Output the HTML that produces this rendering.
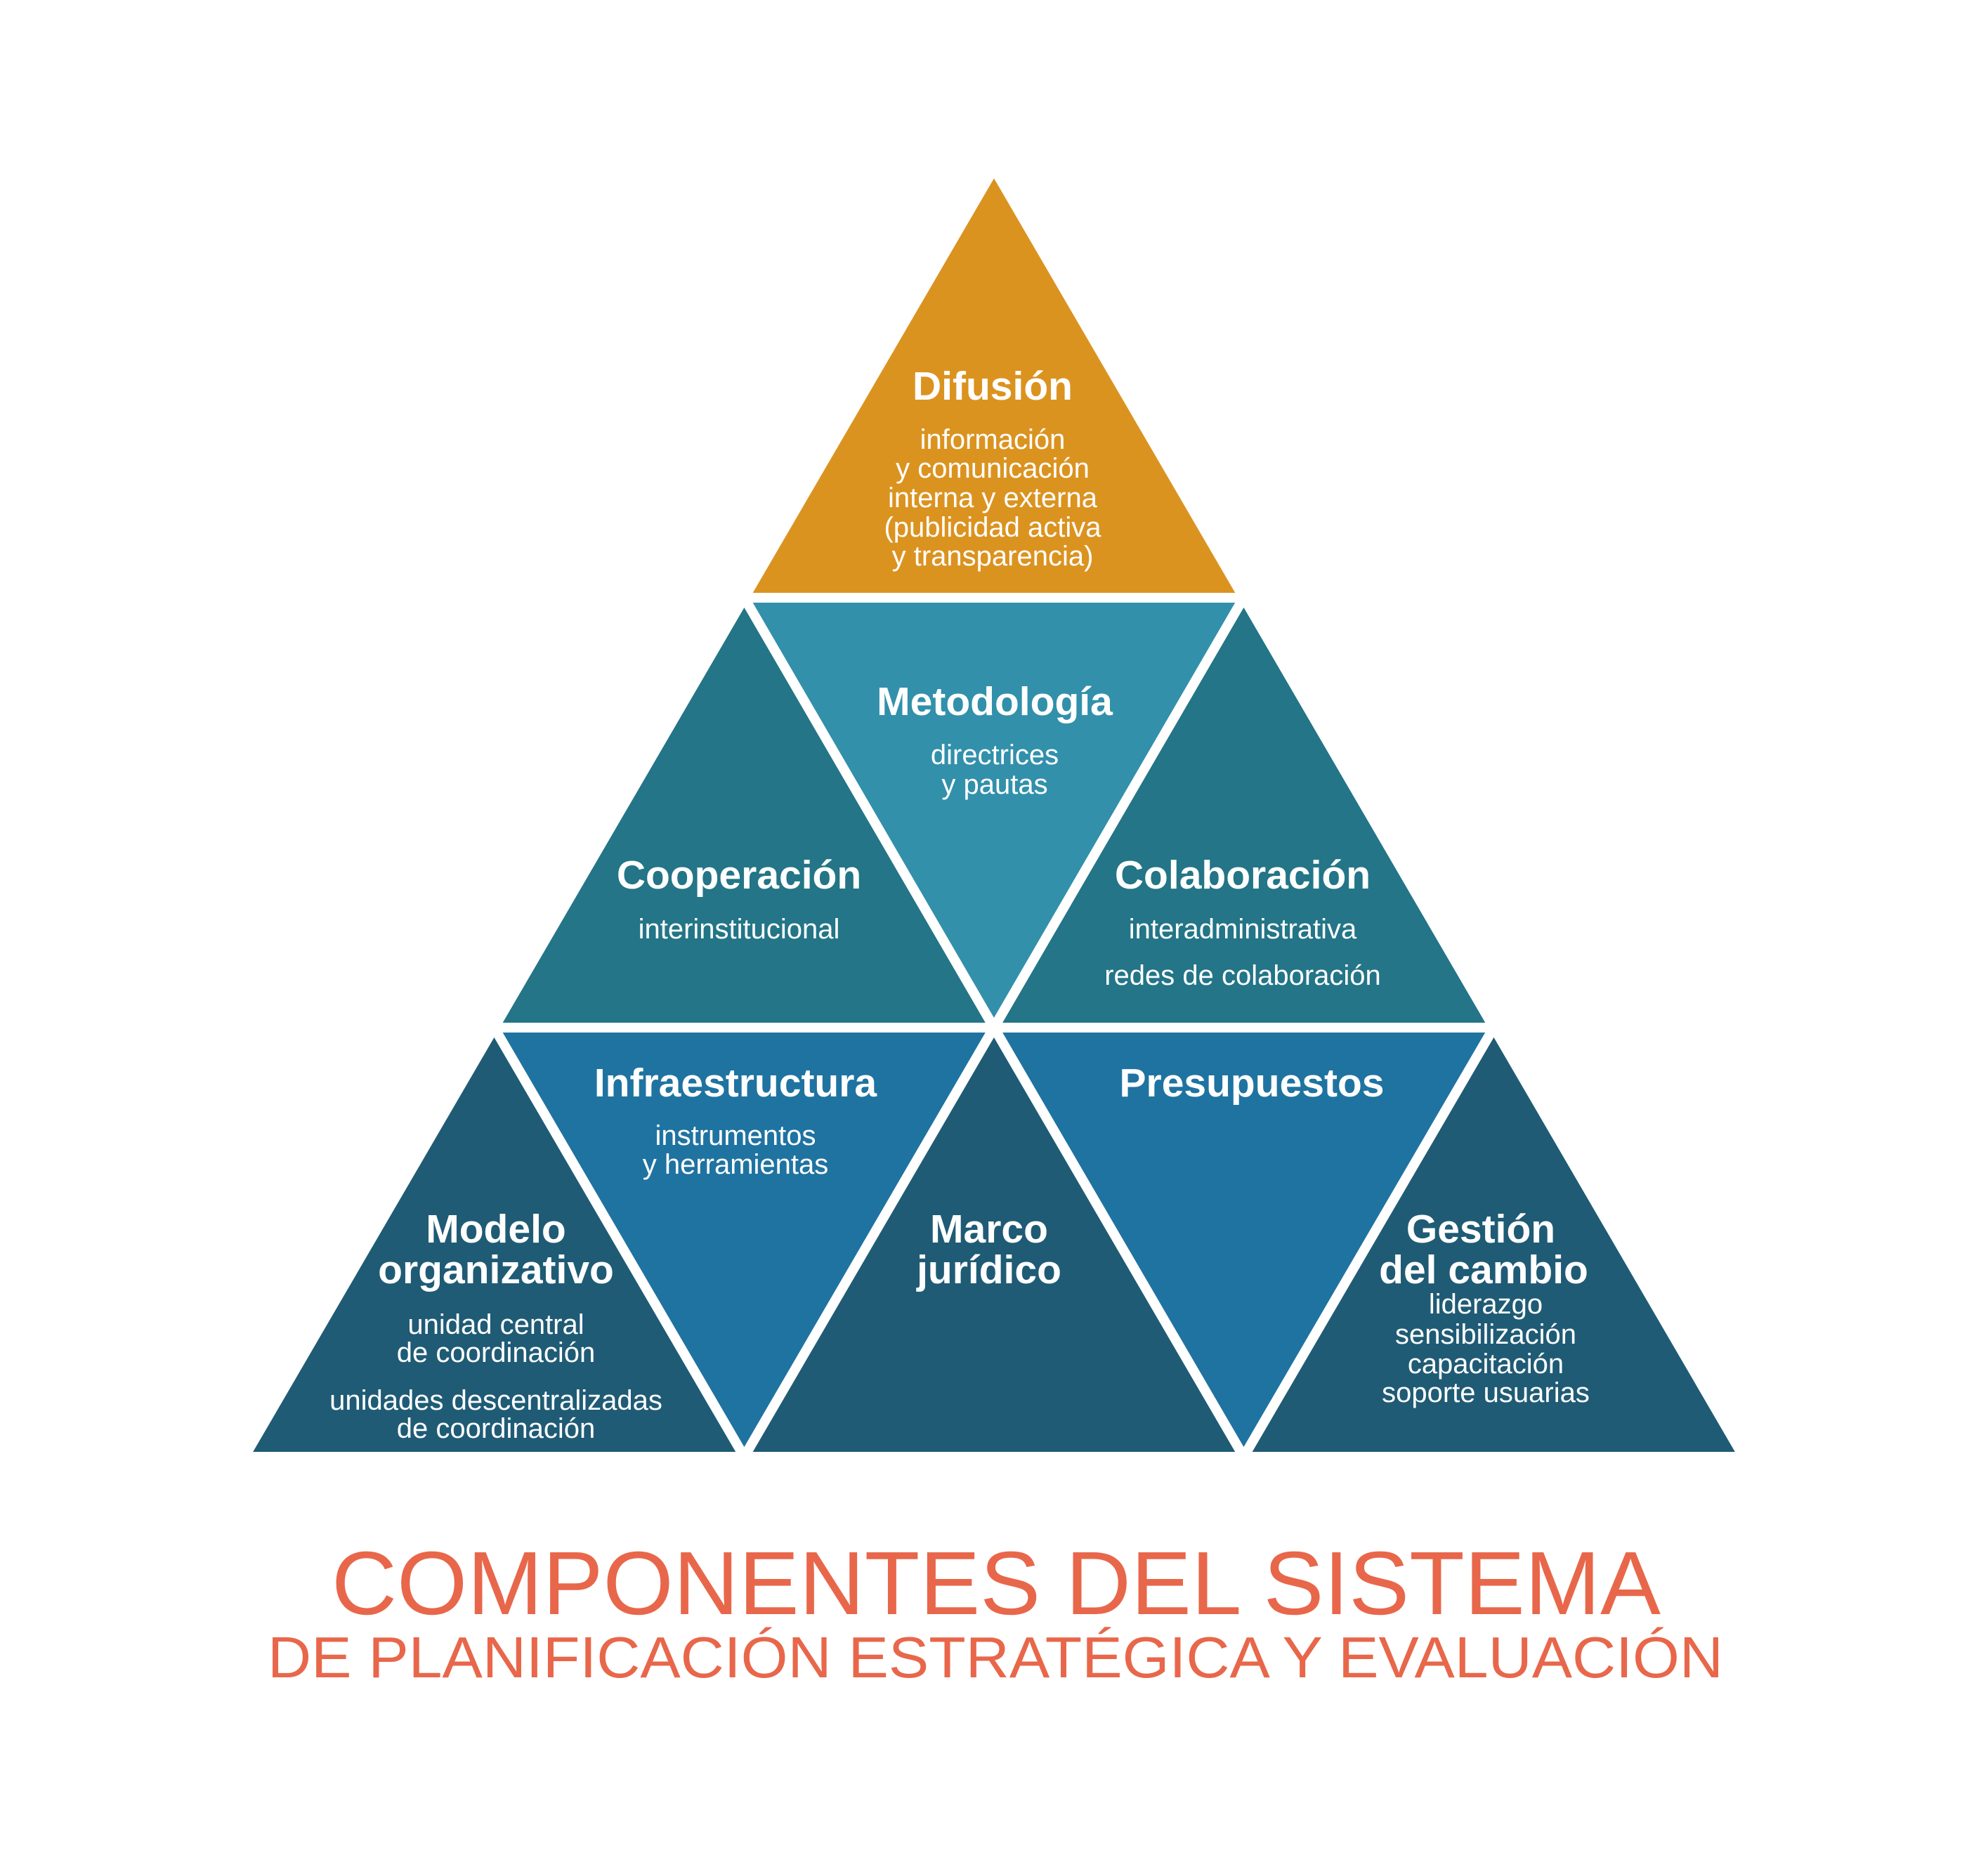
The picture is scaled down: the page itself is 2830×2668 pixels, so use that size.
<!DOCTYPE html>
<html><head><meta charset="utf-8"><style>
html,body{margin:0;padding:0;background:#fff;}
svg{display:block;}
text{font-family:"Liberation Sans",Arial,sans-serif;fill:#fff;text-anchor:middle;}
.h{font-weight:bold;font-size:57px;}
.s{font-size:40px;}
</style></head><body>
<svg width="2830" height="2668" viewBox="0 0 2830 2668" xmlns="http://www.w3.org/2000/svg">
<g stroke="#fff" stroke-width="14" stroke-linejoin="miter">
<polygon points="1415,240 1059.5,851 1770.5,851" fill="#DB9320"/>
<polygon points="1059.5,851 703.5,1463 1415,1463" fill="#237587"/>
<polygon points="1059.5,851 1770.5,851 1415,1463" fill="#3290AB"/>
<polygon points="1770.5,851 1415,1463 2126.5,1463" fill="#237587"/>
<polygon points="703.5,1463 348,2074 1059.5,2074" fill="#1F5B75"/>
<polygon points="703.5,1463 1415,1463 1059.5,2074" fill="#1F73A1"/>
<polygon points="1415,1463 1059.5,2074 1770.5,2074" fill="#1F5B75"/>
<polygon points="1415,1463 2126.5,1463 1770.5,2074" fill="#1F73A1"/>
<polygon points="2126.5,1463 1770.5,2074 2482,2074" fill="#1F5B75"/>
</g>
<text class="h" x="1413" y="569">Difusión</text>
<text class="s" x="1413" y="639">información</text>
<text class="s" x="1413" y="680">y comunicación</text>
<text class="s" x="1413" y="722">interna y externa</text>
<text class="s" x="1413" y="764">(publicidad activa</text>
<text class="s" x="1413" y="805">y transparencia)</text>

<text class="h" x="1416" y="1018">Metodología</text>
<text class="s" x="1416" y="1088">directrices</text>
<text class="s" x="1416" y="1130">y pautas</text>

<text class="h" x="1052" y="1265">Cooperación</text>
<text class="s" x="1052" y="1336">interinstitucional</text>

<text class="h" x="1769" y="1265">Colaboración</text>
<text class="s" x="1769" y="1336">interadministrativa</text>
<text class="s" x="1769" y="1402">redes de colaboración</text>

<text class="h" x="1047" y="1561">Infraestructura</text>
<text class="s" x="1047" y="1630">instrumentos</text>
<text class="s" x="1047" y="1671">y herramientas</text>

<text class="h" x="1782" y="1561">Presupuestos</text>

<text class="h" x="706" y="1769">Modelo</text>
<text class="h" x="706" y="1827">organizativo</text>
<text class="s" x="706" y="1899">unidad central</text>
<text class="s" x="706" y="1939">de coordinación</text>
<text class="s" x="706" y="2007">unidades descentralizadas</text>
<text class="s" x="706" y="2047">de coordinación</text>

<text class="h" x="1408" y="1769">Marco</text>
<text class="h" x="1408" y="1827">jurídico</text>

<text class="h" x="2108" y="1769">Gestión</text>
<text class="h" x="2112" y="1827">del cambio</text>
<text class="s" x="2115" y="1870">liderazgo</text>
<text class="s" x="2115" y="1913">sensibilización</text>
<text class="s" x="2115" y="1955">capacitación</text>
<text class="s" x="2115" y="1996">soporte usuarias</text>

<text x="1418" y="2298" style="fill:#E8674B;font-size:128px" textLength="1892" lengthAdjust="spacingAndGlyphs">COMPONENTES DEL SISTEMA</text>
<text x="1417" y="2388" style="fill:#E8674B;font-size:83px" textLength="2072" lengthAdjust="spacingAndGlyphs">DE PLANIFICACIÓN ESTRATÉGICA Y EVALUACIÓN</text>
</svg>
</body></html>
